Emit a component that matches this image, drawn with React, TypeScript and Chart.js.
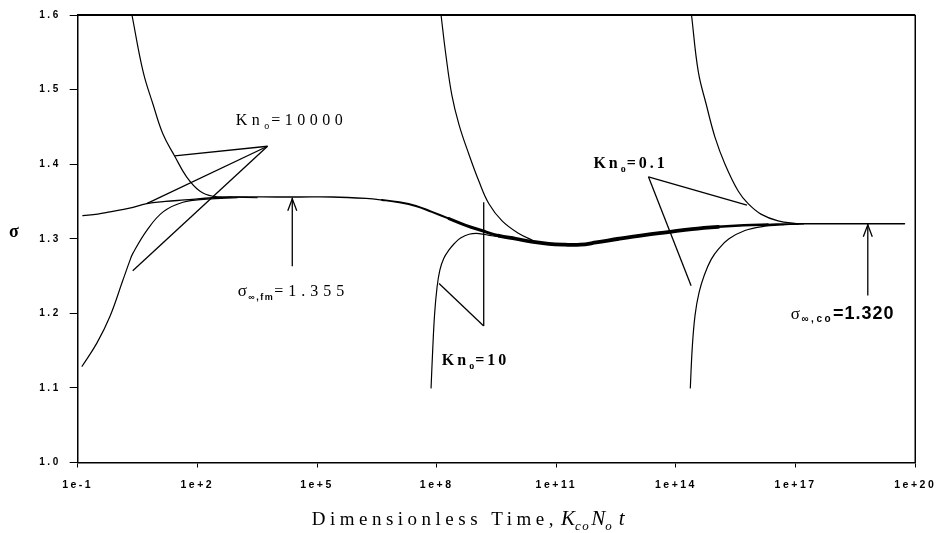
import React, { useEffect, useRef } from "react";
import { Chart, registerables } from "chart.js";

Chart.register(...registerables);

// ---- axis ticks ----
const xTickExponents = [-1, 2, 5, 8, 11, 14, 17, 20]; // log10 of dimensionless time
const yTickValues = [1.0, 1.1, 1.2, 1.3, 1.4, 1.5, 1.6];

// ---- Kn0 = 10000, initial sigma ~1.33 (follows the full asymptotic path) ----
const mainLogT = [-0.87, -0.5, -0.19, 0.3, 0.73, 1.2, 1.68, 2.39, 3.0, 4.0, 4.56, 5.38, 6.23, 6.63, 7.06, 7.48, 7.88, 8.31, 8.73, 9.13, 9.56, 9.98, 10.38, 10.81, 11.2, 11.6, 12.0, 12.57, 13.2, 13.8, 14.4, 15.06, 15.7, 16.3, 17.06, 18.0, 19.0, 19.73];
const mainSigma = [1.331, 1.333, 1.336, 1.341, 1.347, 1.350, 1.352, 1.355, 1.356, 1.356, 1.356, 1.356, 1.354, 1.352, 1.349, 1.344, 1.336, 1.327, 1.318, 1.311, 1.304, 1.300, 1.296, 1.293, 1.292, 1.292, 1.295, 1.300, 1.305, 1.309, 1.313, 1.316, 1.318, 1.319, 1.320, 1.320, 1.320, 1.320];

// ---- Kn0 = 10000, low initial sigma ----
const kn10000LowLogT = [-0.89, -0.52, -0.19, 0.13, 0.31, 0.38, 0.73, 1.14, 1.64, 2.23, 3.0];
const kn10000LowSigma = [1.129, 1.16, 1.196, 1.244, 1.271, 1.28, 1.311, 1.336, 1.349, 1.353, 1.355];

// ---- Kn0 = 10000, high initial sigma ----
const kn10000HighLogT = [0.36, 0.64, 0.89, 1.14, 1.43, 1.73, 2.06, 2.39, 2.9, 3.5];
const kn10000HighSigma = [1.6, 1.524, 1.48, 1.44, 1.411, 1.383, 1.364, 1.357, 1.356, 1.355];

// ---- Kn0 = 10 ----
const kn10HighLogT = [8.11, 8.23, 8.38, 8.56, 8.81, 9.06, 9.31, 9.64, 10.06, 10.4];
const kn10HighSigma = [1.6, 1.547, 1.493, 1.453, 1.413, 1.377, 1.347, 1.324, 1.307, 1.298];
const kn10LowLogT = [7.86, 7.9, 7.95, 8.01, 8.08, 8.18, 8.31, 8.45, 8.6, 8.81, 9.06, 9.38, 9.8];
const kn10LowSigma = [1.10, 1.15, 1.2, 1.235, 1.258, 1.274, 1.285, 1.294, 1.301, 1.306, 1.307, 1.304, 1.301];

// ---- Kn0 = 0.1 ----
const kn01HighLogT = [14.39, 14.56, 14.76, 14.98, 15.23, 15.56, 15.81, 16.13, 16.56, 17.06];
const kn01HighSigma = [1.6, 1.524, 1.48, 1.436, 1.40, 1.364, 1.347, 1.333, 1.324, 1.32];
const kn01LowLogT = [14.36, 14.41, 14.48, 14.58, 14.71, 14.88, 15.08, 15.33, 15.73, 16.13, 16.73, 17.2];
const kn01LowSigma = [1.10, 1.155, 1.198, 1.228, 1.251, 1.272, 1.287, 1.30, 1.311, 1.316, 1.319, 1.32];

// ---- annotation pointers, in (log10 t, sigma) ----
const kn10000Tip = [3.76, 1.424];
const kn10000Targets = [[1.43, 1.411], [0.73, 1.347], [0.38, 1.257]];
const kn10Pointer = [[8.06, 1.24], [9.18, 1.183], [9.18, 1.349]];
const kn01Tip = [13.31, 1.383];
const kn01Targets = [[15.78, 1.345], [14.38, 1.237]];
const fmArrow = [[4.38, 1.355], [4.38, 1.263]];
const coArrow = [[18.81, 1.32], [18.81, 1.224]];

// label anchors (left, baseline) in (log10 t, sigma)
const kn10000LabelAt = [2.96, 1.452];
const fmLabelAt = [3.01, 1.223];
const kn10LabelAt = [8.13, 1.131];
const kn01LabelAt = [11.93, 1.395];
const coLabelAt = [16.88, 1.192];

const toPts = (xs: number[], ys: number[]) => xs.map((e, i) => ({ x: Math.pow(10, e), y: ys[i] }));

const SERIF = "'Liberation Serif', 'Times New Roman', serif";
const SANS = "'Liberation Sans', Arial, sans-serif";

type Part = { t: string; font: string; dy?: number; ls?: number; gap?: number };

function drawRich(ctx: CanvasRenderingContext2D, x: number, y: number, parts: Part[]) {
  let cx = x;
  ctx.textAlign = "left";
  ctx.textBaseline = "alphabetic";
  for (const p of parts) {
    cx += p.gap ?? 0;
    ctx.font = p.font;
    (ctx as any).letterSpacing = "0px";
    const w = ctx.measureText(p.t).width;
    const ls = p.ls ?? 0;
    (ctx as any).letterSpacing = ls + "px";
    ctx.fillText(p.t, cx, y + (p.dy ?? 0));
    cx += w + ls * p.t.length;
  }
  (ctx as any).letterSpacing = "0px";
}

function bandWidth(e: number) {
  if (e < 6.4) return 1.3;
  if (e < 8.0) return 2.0;
  if (e < 9.2) return 3.0;
  if (e < 14.6) return 3.8;
  if (e < 15.8) return 2.6;
  if (e < 16.8) return 1.9;
  return 1.5;
}

const overlayPlugin = {
  id: "overlay",
  beforeDraw(chart: any) {
    (chart.ctx as any).letterSpacing = "2.5px";
  },
  afterDraw(chart: any) {
    const ctx: CanvasRenderingContext2D = chart.ctx;
    const xs = chart.scales.x;
    const ys = chart.scales.y;
    const px = (p: number[]) => [xs.getPixelForValue(Math.pow(10, p[0])), ys.getPixelForValue(p[1])];
    const { left, right, top, bottom } = chart.chartArea;
    ctx.save();
    (ctx as any).letterSpacing = "0px";
    ctx.strokeStyle = "#000";
    ctx.fillStyle = "#000";
    // frame top and right
    ctx.lineWidth = 2;
    ctx.beginPath();
    ctx.moveTo(left, top);
    ctx.lineTo(right, top);
    ctx.stroke();
    ctx.lineWidth = 1.5;
    ctx.beginPath();
    ctx.moveTo(right, top);
    ctx.lineTo(right, bottom);
    ctx.stroke();

    ctx.lineWidth = 1.3;
    const line = (a: number[], b: number[]) => {
      const [x1, y1] = px(a);
      const [x2, y2] = px(b);
      ctx.beginPath();
      ctx.moveTo(x1, y1);
      ctx.lineTo(x2, y2);
      ctx.stroke();
    };
    kn10000Targets.forEach((t) => line(kn10000Tip, t));
    line(kn10Pointer[0], kn10Pointer[1]);
    line(kn10Pointer[1], kn10Pointer[2]);
    kn01Targets.forEach((t) => line(kn01Tip, t));

    const arrow = (a: number[][]) => {
      line(a[0], a[1]);
      const [tx, ty] = px(a[0]);
      ctx.beginPath();
      ctx.moveTo(tx - 4.5, ty + 13);
      ctx.lineTo(tx, ty + 1);
      ctx.lineTo(tx + 4.5, ty + 13);
      ctx.stroke();
    };
    arrow(fmArrow);
    arrow(coArrow);

    // labels
    let p = px(kn10000LabelAt);
    drawRich(ctx, p[0], p[1], [
      { t: "Kn", font: `16px ${SERIF}`, ls: 4.5 },
      { t: "o", font: `10px ${SERIF}`, dy: 4, ls: 2 },
      { t: "=10000", font: `16px ${SERIF}`, ls: 4.5 },
    ]);
    p = px(fmLabelAt);
    drawRich(ctx, p[0], p[1], [
      { t: "σ", font: `17px ${SERIF}`, ls: 1.5 },
      { t: "∞,fm", font: `bold 9px ${SANS}`, dy: 4, ls: 1.5 },
      { t: "=1.355", font: `16px ${SERIF}`, ls: 5 },
    ]);
    p = px(kn10LabelAt);
    drawRich(ctx, p[0], p[1], [
      { t: "Kn", font: `bold 16px ${SERIF}`, ls: 3 },
      { t: "o", font: `bold 10px ${SERIF}`, dy: 4, ls: 1 },
      { t: "=10", font: `bold 16px ${SERIF}`, ls: 3 },
    ]);
    p = px(kn01LabelAt);
    drawRich(ctx, p[0], p[1], [
      { t: "Kn", font: `bold 16px ${SERIF}`, ls: 3 },
      { t: "o", font: `bold 10px ${SERIF}`, dy: 4, ls: 1 },
      { t: "=0.1", font: `bold 16px ${SERIF}`, ls: 3 },
    ]);
    p = px(coLabelAt);
    drawRich(ctx, p[0], p[1], [
      { t: "σ", font: `17px ${SERIF}`, ls: 1.5 },
      { t: "∞,co", font: `bold 10px ${SANS}`, dy: 3, ls: 2.5 },
      { t: "=1.320", font: `bold 18px ${SANS}`, ls: 1 },
    ]);

    // axis titles
    drawRich(ctx, left + 234, 525, [
      { t: "Dimensionless Time,", font: `19px ${SERIF}`, ls: 4.5 },
      { t: "K", font: `italic 21px ${SERIF}`, gap: 3 },
      { t: "co", font: `italic 13px ${SERIF}`, dy: 5, ls: 1.5 },
      { t: "N", font: `italic 21px ${SERIF}`, gap: 1 },
      { t: "o", font: `italic 13px ${SERIF}`, dy: 5 },
      { t: "t", font: `italic 21px ${SERIF}`, gap: 7 },
    ]);
    ctx.font = `bold 18px ${SERIF}`;
    ctx.textAlign = "center";
    ctx.textBaseline = "middle";
    ctx.fillText("σ", 14, 232);
    ctx.restore();
  },
};

export default function App() {
  const ref = useRef<HTMLCanvasElement | null>(null);
  useEffect(() => {
    if (!ref.current) return;
    const curve = (xs: number[], ys: number[], extra: any = {}) => ({
      data: toPts(xs, ys),
      borderColor: "#000",
      borderWidth: 1.2,
      pointRadius: 0,
      fill: false,
      tension: 0.4,
      borderJoinStyle: "round",
      borderCapStyle: "round",
      ...extra,
    });
    const chart = new Chart(ref.current, {
      type: "line",
      data: {
        datasets: [
          curve(mainLogT, mainSigma, {
            segment: { borderWidth: (c: any) => bandWidth(Math.log10(c.p0.parsed.x)) },
          }),
          curve(kn10000LowLogT, kn10000LowSigma),
          curve(kn10000HighLogT, kn10000HighSigma),
          curve(kn10HighLogT, kn10HighSigma),
          curve(kn10LowLogT, kn10LowSigma),
          curve(kn01HighLogT, kn01HighSigma),
          curve(kn01LowLogT, kn01LowSigma),
        ] as any,
      },
      options: {
        animation: false,
        responsive: true,
        maintainAspectRatio: false,
        layout: { padding: { top: 12, right: 24.5, left: 0, bottom: 0 } },
        plugins: { legend: { display: false }, tooltip: { enabled: false } },
        events: [],
        scales: {
          x: {
            type: "logarithmic",
            min: 0.1,
            max: 1e20,
            afterBuildTicks: (s: any) => {
              s.ticks = xTickExponents.map((e) => ({ value: Math.pow(10, e) }));
            },
            afterFit: (s: any) => {
              s.height = 70.5;
            },
            ticks: {
              autoSkip: false,
              maxRotation: 0,
              color: "#000",
              padding: 11,
              font: { family: SANS, size: 10.5, weight: "bold" },
              callback: (v: any) => {
                const e = Math.round(Math.log10(Number(v)));
                return "1e" + (e < 0 ? "-" : "+") + Math.abs(e);
              },
            },
            grid: { drawOnChartArea: false, drawTicks: true, tickLength: 5, color: "#000", lineWidth: 1 },
            border: { display: true, color: "#000", width: 1.5 },
          },
          y: {
            type: "linear",
            min: 1.0,
            max: 1.6,
            afterBuildTicks: (s: any) => {
              s.ticks = yTickValues.map((v) => ({ value: v }));
            },
            afterFit: (s: any) => {
              s.width = 77.7;
            },
            ticks: {
              color: "#000",
              padding: 9,
              font: { family: SANS, size: 10, weight: "bold" },
              callback: (v: any) => Number(v).toFixed(1),
            },
            grid: { drawOnChartArea: false, drawTicks: true, tickLength: 8, color: "#000", lineWidth: 1 },
            border: { display: true, color: "#000", width: 1.5 },
          },
        },
      } as any,
      plugins: [overlayPlugin],
    });
    return () => chart.destroy();
  }, []);
  return (
    <div style={{ position: "fixed", left: 0, top: 0, width: 941, height: 533, background: "#fff" }}>
      <canvas ref={ref} />
    </div>
  );
}
